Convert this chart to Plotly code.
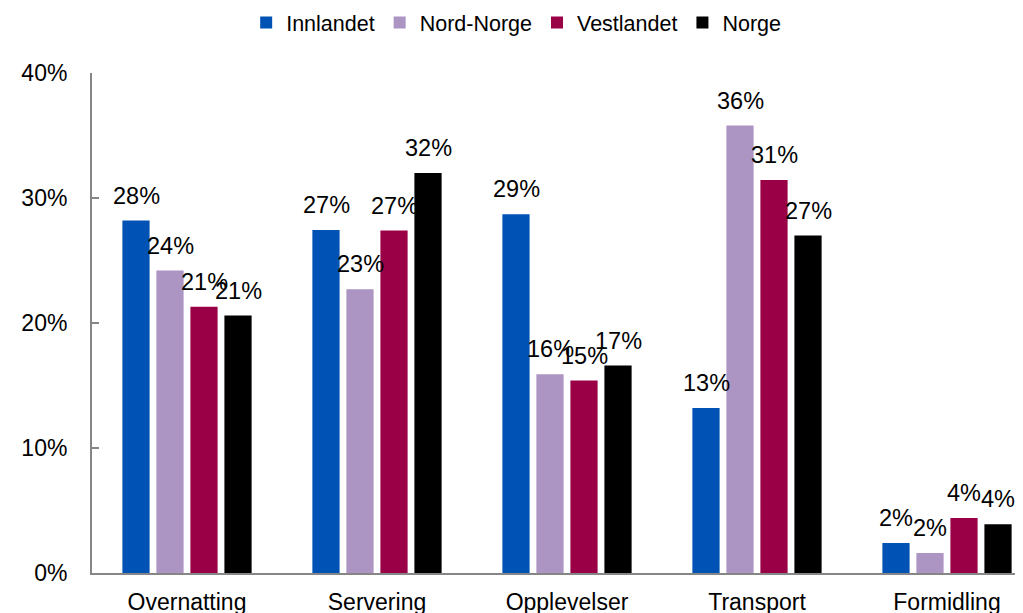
import plotly.graph_objects as go

categories = ["Overnatting", "Servering", "Opplevelser", "Transport", "Formidling"]
series_names = ["Innlandet", "Nord-Norge", "Vestlandet", "Norge"]
innlandet = [28.2, 27.45, 28.7, 13.2, 2.4]
nord_norge = [24.2, 22.7, 15.9, 35.8, 1.6]
vestlandet = [21.3, 27.4, 15.4, 31.45, 4.4]
norge = [20.6, 32.0, 16.6, 27.0, 3.9]
y_ticks = [0, 10, 20, 30, 40]
y_tick_labels = ["0%", "10%", "20%", "30%", "40%"]

colors = ["#0052B4", "#AC94C3", "#990046", "#000000"]
all_series = [innlandet, nord_norge, vestlandet, norge]

FONT = "Liberation Sans, Arial, sans-serif"
fig = go.Figure()
for name, vals, col in zip(series_names, all_series, colors):
    fig.add_trace(go.Bar(name=name, x=categories, y=vals, marker_color=col,
                         marker_line_width=0))

# data labels
slot_px = 34
for si, vals in enumerate(all_series):
    for ci, v in enumerate(vals):
        fig.add_annotation(x=categories[ci], y=v, text=f"{round(v):.0f}%",
                           showarrow=False, yanchor="bottom", xanchor="center",
                           xshift=(si - 1.5) * slot_px, yshift=10,
                           font=dict(family=FONT, size=23.5, color="black"))

fig.update_layout(
    width=1015, height=605,
    margin=dict(l=84, r=0, t=65, b=40),
    paper_bgcolor="white", plot_bgcolor="white",
    barmode="group", bargap=0.284, bargroupgap=0.2,
    font=dict(family=FONT, size=22, color="black"),
    legend=dict(orientation="h", x=0.1656, xanchor="left", y=0.976, yref="container",
                yanchor="middle", font=dict(size=21.5), itemwidth=30,
                tracegroupgap=0, itemsizing="constant", bgcolor="rgba(0,0,0,0)"),
    showlegend=True,
)
fig.update_xaxes(range=[-0.5, 4.4], showline=True, linecolor="#868686", linewidth=2,
                 ticks="", tickfont=dict(size=23), showgrid=False, automargin=False,
                 ticklabelstandoff=7)
fig.update_yaxes(range=[0, 40], tickvals=y_ticks, ticktext=y_tick_labels,
                 showline=True, linecolor="#868686", linewidth=2, ticks="inside",
                 ticklen=7, tickcolor="#868686", tickwidth=1.5, showgrid=False,
                 zeroline=False, tickfont=dict(size=23), automargin=False,
                 ticklabelstandoff=18)
fig.write_html("out.html")
